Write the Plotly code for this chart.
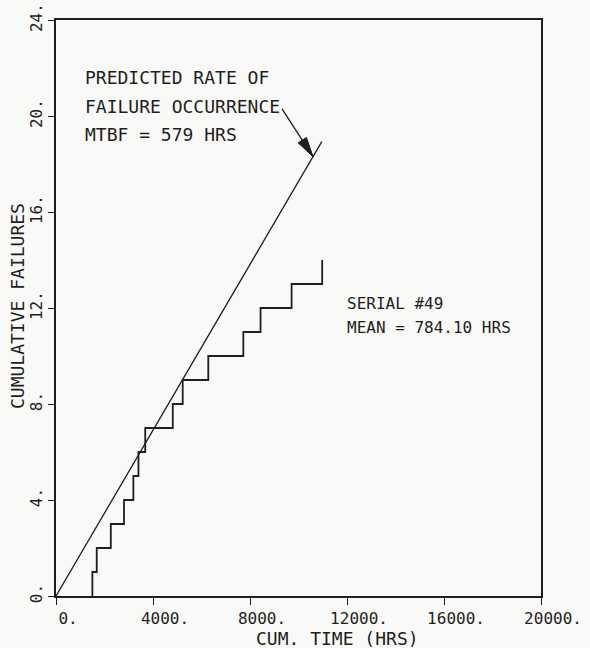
import plotly.graph_objects as go

# ---- data ----
fail_hours = [1500, 1680, 2260, 2805, 3190, 3400, 3680, 4815, 5225, 6280, 7725, 8435, 9715, 10977]
cum_failures = [1, 2, 3, 4, 5, 6, 7, 8, 9, 10, 11, 12, 13, 14]

pred_hours = [0, 10960]
pred_failures = [0, 18.93]

x_ticks = [0, 4000, 8000, 12000, 16000, 20000]
x_ticktext = ["0.", "4000.", "8000.", "12000.", "16000.", "20000."]
y_ticks = [0, 4, 8, 12, 16, 20, 24]
y_ticktext = ["0.", "4.", "8.", "12.", "16.", "20.", "24."]

FONT = "DejaVu Sans Mono"
INK = "#1e1e1e"
BG = "#f9f9f7"

W, H = 590, 648
ML, MR, MT, MB = 56, 49, 20, 52
PW, PH = W - ML - MR, H - MT - MB


def px_to_paper(px, py):
    return (px - ML) / PW, (H - MB - py) / PH


fig = go.Figure()

fig.add_trace(go.Scatter(
    x=pred_hours, y=pred_failures, mode="lines",
    line=dict(color=INK, width=1.3), showlegend=False, hoverinfo="skip"))

fig.add_trace(go.Scatter(
    x=[fail_hours[0]] + fail_hours, y=[0] + cum_failures, mode="lines",
    line=dict(color=INK, width=1.8, shape="hv"), showlegend=False, hoverinfo="skip"))

# leader line + arrow head pointing at the predicted line
tip_x, tip_y = 10600, 18.3
fig.add_shape(type="line", xref="x", yref="y", xsizemode="pixel", ysizemode="pixel",
              xanchor=tip_x, yanchor=tip_y, x0=0, y0=0, x1=-31, y1=48,
              line=dict(color=INK, width=1.3))
fig.add_shape(type="path", xref="x", yref="y", xsizemode="pixel", ysizemode="pixel",
              xanchor=tip_x, yanchor=tip_y,
              path="M0,0 L-6.6,19.4 L-14.9,14.0 Z",
              fillcolor=INK, line=dict(color=INK, width=1))


def note(text, x, y, size):
    fig.add_annotation(x=x, y=y, xref="x", yref="y", text=text, showarrow=False,
                       xanchor="left", yanchor="middle",
                       font=dict(family=FONT, size=size, color=INK))


note("PREDICTED RATE OF", 1100, 21.6, 18)
note("FAILURE OCCURRENCE", 1100, 20.4, 18)
note("MTBF = 579 HRS", 1100, 19.25, 18)
note("SERIAL #49", 11900, 12.2, 16)
note("MEAN = 784.10 HRS", 11900, 11.2, 16)

# axis titles
tx, ty = px_to_paper(337, 638)
fig.add_annotation(x=tx, y=ty, xref="paper", yref="paper",
                   text="CUM. TIME (HRS)", showarrow=False, xanchor="center", yanchor="middle",
                   font=dict(family=FONT, size=18, color=INK))
tx, ty = px_to_paper(17, 306)
fig.add_annotation(x=tx, y=ty, xref="paper", yref="paper",
                   text="CUMULATIVE FAILURES", showarrow=False, textangle=-90,
                   xanchor="center", yanchor="middle",
                   font=dict(family=FONT, size=18, color=INK))

fig.update_xaxes(range=[0, 20000], tickvals=x_ticks, ticktext=x_ticktext,
                 showgrid=False, zeroline=False, showline=True, mirror=True,
                 linecolor=INK, linewidth=2, ticks="outside", ticklen=7, tickwidth=1.3,
                 tickcolor=INK, ticklabelshift=12, automargin=False,
                 tickfont=dict(family=FONT, size=16, color=INK))
fig.update_yaxes(range=[0, 24], tickvals=y_ticks, ticktext=y_ticktext, tickangle=-90,
                 showgrid=False, zeroline=False, showline=True, mirror=True,
                 linecolor=INK, linewidth=1.6, ticks="outside", ticklen=6, tickwidth=1.3,
                 tickcolor=INK, ticklabelstandoff=0, automargin=False,
                 tickfont=dict(family=FONT, size=16, color=INK))

fig.update_layout(width=W, height=H,
                  margin=dict(l=ML, r=MR, t=MT, b=MB, autoexpand=False),
                  paper_bgcolor=BG, plot_bgcolor=BG,
                  showlegend=False)

fig.write_html("out.html", config={"displayModeBar": False},
               post_script="document.body.style.margin='0';"
                           "document.body.style.background='%s';" % BG)
